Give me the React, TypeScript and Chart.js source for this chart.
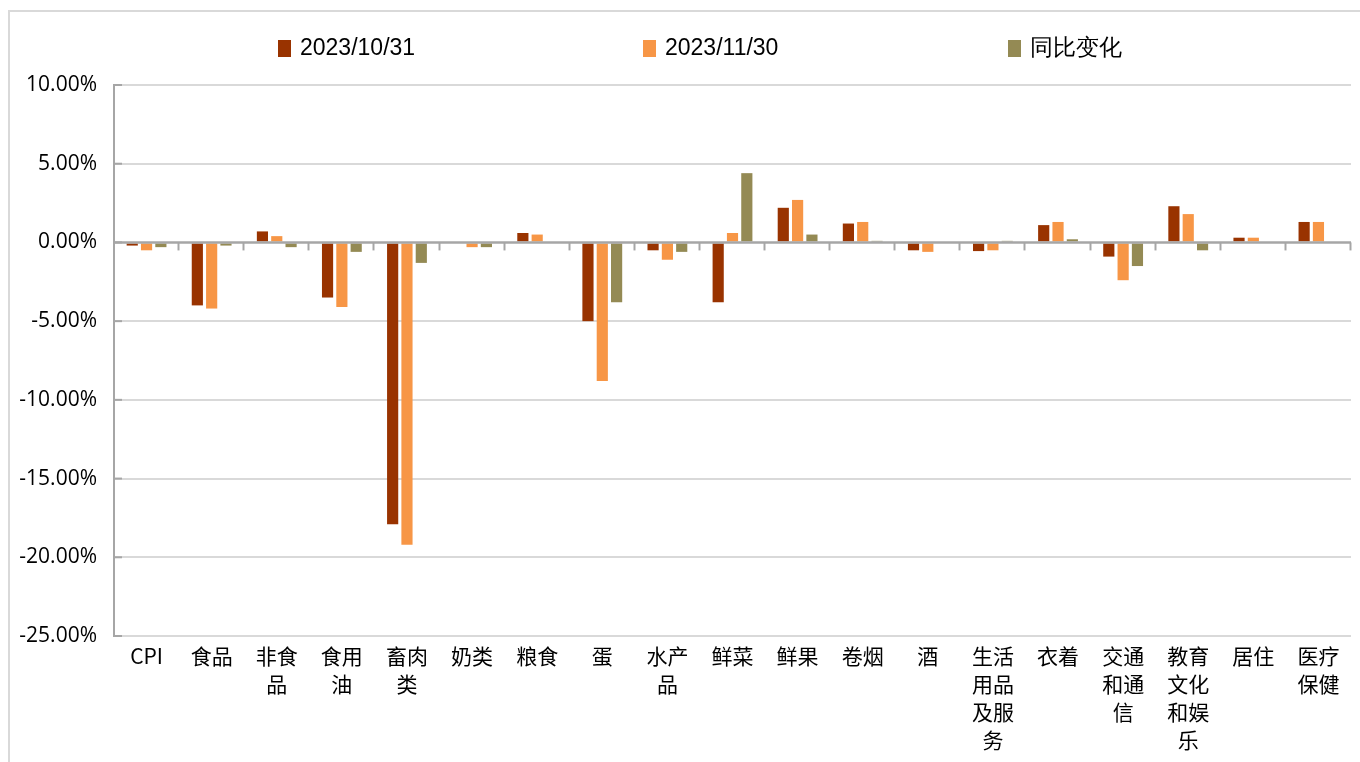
import React, { useEffect, useRef } from "react";
import { Chart, registerables } from "chart.js";

Chart.register(...registerables);

const categories: (string | string[])[] = [
  "CPI",
  "食品",
  ["非食", "品"],
  ["食用", "油"],
  ["畜肉", "类"],
  "奶类",
  "粮食",
  "蛋",
  ["水产", "品"],
  "鲜菜",
  "鲜果",
  "卷烟",
  "酒",
  ["生活", "用品", "及服", "务"],
  "衣着",
  ["交通", "和通", "信"],
  ["教育", "文化", "和娱", "乐"],
  "居住",
  ["医疗", "保健"],
];

const seriesLabels = ["2023/10/31", "2023/11/30", "同比变化"];

const oct31 = [-0.2, -4.0, 0.7, -3.5, -17.9, 0.0, 0.6, -5.0, -0.5, -3.8, 2.2, 1.2, -0.5, -0.55, 1.1, -0.9, 2.3, 0.3, 1.3];
const nov30 = [-0.5, -4.2, 0.4, -4.1, -19.2, -0.3, 0.5, -8.8, -1.1, 0.6, 2.7, 1.3, -0.6, -0.5, 1.3, -2.4, 1.8, 0.3, 1.3];
const yoyChange = [-0.3, -0.2, -0.3, -0.6, -1.3, -0.3, 0.0, -3.8, -0.6, 4.4, 0.5, 0.1, 0.0, 0.1, 0.2, -1.5, -0.5, 0.0, 0.0];

const yTicks = [10, 5, 0, -5, -10, -15, -20, -25];

const colors = ["#993300", "#F79646", "#948A54"];

export default function App() {
  const ref = useRef<HTMLCanvasElement | null>(null);

  useEffect(() => {
    document.body.style.margin = "0";
    const canvas = ref.current;
    if (!canvas) return;

    const decor = {
      id: "decor",
      beforeDraw(chart: any) {
        const ctx = chart.ctx;
        ctx.save();
        ctx.strokeStyle = "#d9d9d9";
        ctx.lineWidth = 2;
        ctx.beginPath();
        ctx.moveTo(9, 762);
        ctx.lineTo(9, 11);
        ctx.lineTo(1360, 11);
        ctx.stroke();
        ctx.restore();
      },
      afterDatasetsDraw(chart: any) {
        const ctx = chart.ctx;
        const y = chart.scales.y;
        const area = chart.chartArea;
        ctx.save();
        const y0 = y.getPixelForValue(0);
        ctx.strokeStyle = "#a6a6a6";
        ctx.lineWidth = 2.5;
        ctx.beginPath();
        ctx.moveTo(area.left, y0);
        ctx.lineTo(area.right, y0);
        ctx.stroke();
        ctx.lineWidth = 2;
        const n = categories.length;
        const w = (area.right - area.left) / n;
        for (let k = 1; k <= n; k++) {
          const px = Math.round(area.left + w * k) - 0.5;
          ctx.beginPath();
          ctx.moveTo(px, y0);
          ctx.lineTo(px, y0 + 8);
          ctx.stroke();
        }
        yTicks.forEach((v) => {
          const py = y.getPixelForValue(v);
          ctx.beginPath();
          ctx.moveTo(area.left, py);
          ctx.lineTo(area.left + 8, py);
          ctx.stroke();
        });
        const starts = [278, 643, 1008];
        ctx.font = "23px 'Liberation Sans', Arial, sans-serif";
        ctx.textBaseline = "middle";
        ctx.textAlign = "left";
        seriesLabels.forEach((lab, i) => {
          const sx = starts[i];
          ctx.fillStyle = colors[i];
          ctx.fillRect(sx, 40, 13, 17);
          ctx.fillStyle = "#000";
          ctx.fillText(lab, sx + 22, 49);
        });
        ctx.restore();
      },
    };

    const chart = new Chart(canvas, {
      type: "bar",
      data: {
        labels: categories,
        datasets: [
          { label: seriesLabels[0], data: oct31, backgroundColor: colors[0] },
          { label: seriesLabels[1], data: nov30, backgroundColor: colors[1] },
          { label: seriesLabels[2], data: yoyChange, backgroundColor: colors[2] },
        ],
      },
      options: {
        responsive: false,
        animation: false,
        events: [],
        datasets: {
          bar: { categoryPercentage: 0.66, barPercentage: 0.78 },
        },
        layout: { padding: { top: 85, right: 9, left: 0, bottom: 0 } },
        plugins: {
          legend: { display: false },
          tooltip: { enabled: false },
        },
        scales: {
          x: {
            grid: { display: false, drawTicks: false },
            border: { display: false },
            ticks: {
              autoSkip: false,
              maxRotation: 0,
              minRotation: 0,
              padding: 6,
              color: "#000",
              font: { family: "'Noto Sans CJK SC', sans-serif", size: 21, lineHeight: 1.34 },
            },
            afterFit: (s: any) => {
              s.height = 126;
            },
          },
          y: {
            min: -25,
            max: 10,
            afterBuildTicks: (s: any) => {
              s.ticks = yTicks.map((v) => ({ value: v }));
            },
            grid: {
              drawTicks: false,
              color: (c: any) => (c.tick && c.tick.value === 0 ? "rgba(0,0,0,0)" : "#d9d9d9"),
              lineWidth: 2,
            },
            border: { display: true, color: "#a6a6a6", width: 2 },
            ticks: {
              padding: 17,
              color: "#000",
              font: { family: "'Open Sans', sans-serif", size: 21 },
              callback: (v: any) => Number(v).toFixed(2) + "%",
            },
            afterFit: (s: any) => {
              s.width = 114;
            },
          },
        },
      },
      plugins: [decor],
    });

    return () => chart.destroy();
  }, []);

  return <canvas ref={ref} width={1360} height={762} style={{ display: "block" }} />;
}
